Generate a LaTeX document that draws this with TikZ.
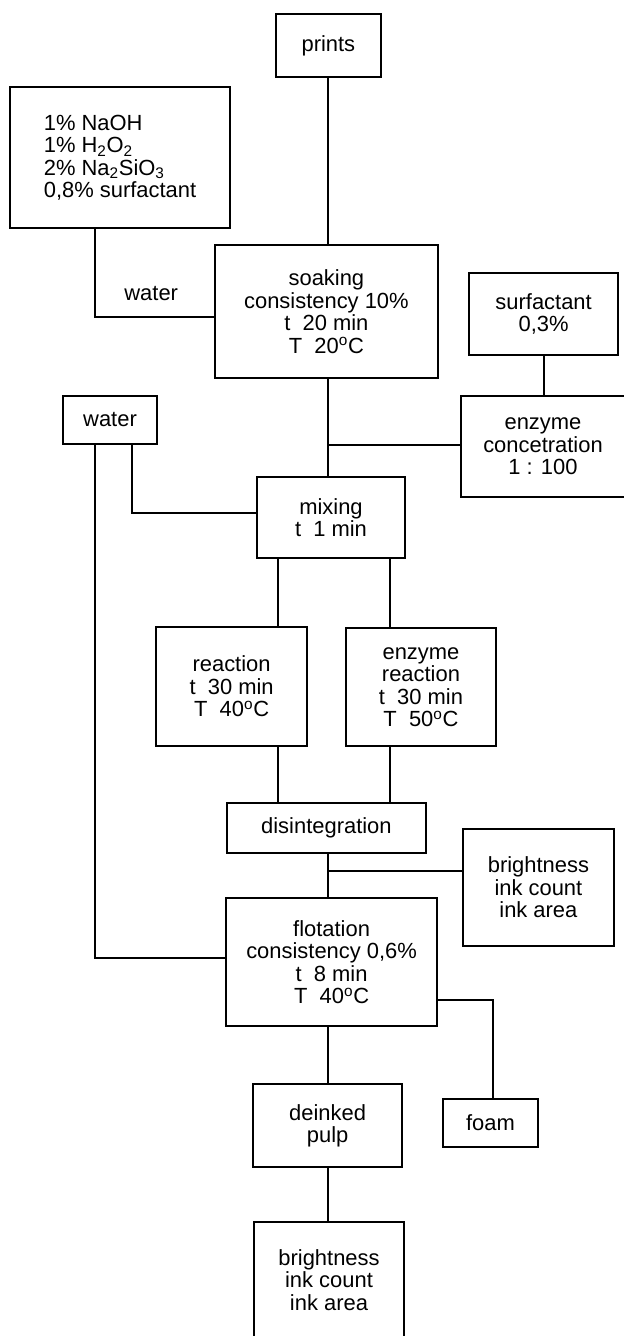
\documentclass[tikz,border=0pt]{standalone}
\usepackage{fontspec}
\setmainfont{Liberation Sans}
\usepackage{tikz}
\usetikzlibrary{positioning,calc}

\begin{document}
\begin{tikzpicture}[
          every node/.style={font=\fontsize{15.6}{16}\selectfont},
          stage/.style={draw,line width=1.3pt,align=center,inner sep=2pt},
          link/.style={line width=1.3pt},
      ]
        \useasboundingbox (0,0) rectangle (15.575,-33.4);

        % inputs and process stages
        \node[stage,minimum width=2.63cm,minimum height=1.58cm] (prints) at (8.21,-1.14) {prints};
        \node[stage,align=left,minimum width=5.5cm,minimum height=3.53cm] (chem) at (3.0,-3.94)
          {1\% NaOH\\
           1\% H\textsubscript{2}O\textsubscript{2}\\
           2\% Na\textsubscript{2}SiO\textsubscript{3}\\
           0,8\% surfactant};
        \node[stage,minimum width=5.58cm,minimum height=3.33cm] (soaking) at (8.16,-7.79)
          {soaking\\ consistency 10\%\\ t\ \ 20 min\\ T\ \ 20\textsuperscript{o}C};
        \node[stage,minimum width=3.73cm,minimum height=2.05cm] (surfactant) at (13.59,-7.85)
          {surfactant\\ 0,3\%};
        \node (waterlabel) at (3.78,-7.33) {water};
        \node[stage,minimum width=2.35cm,minimum height=1.2cm] (water) at (2.75,-10.5) {water};
        \node[stage,minimum width=4.1cm,minimum height=2.53cm] (enzyme) at (13.575,-11.16)
          {enzyme\\ concetration\\ 1 : 100};
        \node[stage,minimum width=3.7cm,minimum height=2.03cm] (mixing) at (8.275,-12.94)
          {mixing\\ t\ \ 1 min};
        \node[stage,minimum width=3.78cm,minimum height=2.98cm] (reaction) at (5.79,-17.16)
          {reaction\\ t\ \ 30 min\\ T\ \ 40\textsuperscript{o}C};
        \node[stage,minimum width=3.75cm,minimum height=2.95cm] (ereaction) at (10.525,-17.175)
          {enzyme\\ reaction\\ t\ \ 30 min\\ T\ \ 50\textsuperscript{o}C};
        \node[stage,minimum width=4.98cm,minimum height=1.25cm] (disint) at (8.16,-20.7)
          {disintegration};
        \node[stage,minimum width=3.78cm,minimum height=2.93cm] (bright1) at (13.46,-22.19)
          {brightness\\ ink count\\ ink area};
        \node[stage,minimum width=5.28cm,minimum height=3.2cm] (flotation) at (8.29,-24.05)
          {flotation\\ consistency 0,6\%\\ t\ \ 8 min\\ T\ \ 40\textsuperscript{o}C};
        \node[stage,minimum width=2.38cm,minimum height=1.2cm] (foam) at (12.26,-28.075) {foam};
        \node[stage,minimum width=3.73cm,minimum height=2.08cm] (deinked) at (8.19,-28.14)
          {deinked\\ pulp};
        \node[stage,minimum width=3.75cm,minimum height=2.9cm] (bright2) at (8.225,-32.0)
          {brightness\\ ink count\\ ink area};

        % bends of the connectors
        \coordinate (chemturn) at (2.375,-7.925);
        \coordinate (waterleft) at (2.375,-23.95);
        \coordinate (waterright) at (3.3,-12.825);
        \coordinate (enzjoin) at (8.2,-11.125);
        \coordinate (brightjoin) at (8.2,-21.775);
        \coordinate (foamturn) at (12.325,-25.0);
        \coordinate (mixleft) at (6.95,-15.0);
        \coordinate (mixright) at (9.75,-15.0);

        % connectors
        \draw[link] (prints.south -| enzjoin) -- (soaking.north -| enzjoin);
        \draw[link] (chem.south -| chemturn) -- (chemturn) -- (soaking.west |- chemturn);
        \draw[link] (soaking.south -| enzjoin) -- (mixing.north -| enzjoin);
        \draw[link] (enzjoin) -- (enzyme.west |- enzjoin);
        \draw[link] (surfactant.south) -- (surfactant.south |- enzyme.north);
        \draw[link] (water.south -| waterleft) -- (waterleft) -- (flotation.west |- waterleft);
        \draw[link] (water.south -| waterright) -- (waterright) -- (mixing.west |- waterright);
        \draw[link] (mixing.south -| mixleft) -- (reaction.north -| mixleft);
        \draw[link] (mixing.south -| mixright) -- (ereaction.north -| mixright);
        \draw[link] (reaction.south -| mixleft) -- (disint.north -| mixleft);
        \draw[link] (ereaction.south -| mixright) -- (disint.north -| mixright);
        \draw[link] (disint.south -| brightjoin) -- (flotation.north -| brightjoin);
        \draw[link] (brightjoin) -- (bright1.west |- brightjoin);
        \draw[link] (flotation.east |- foamturn) -- (foamturn) -- (foam.north -| foamturn);
        \draw[link] (flotation.south -| enzjoin) -- (deinked.north -| enzjoin);
        \draw[link] (deinked.south -| enzjoin) -- (bright2.north -| enzjoin);
      \end{tikzpicture}
\end{document}
